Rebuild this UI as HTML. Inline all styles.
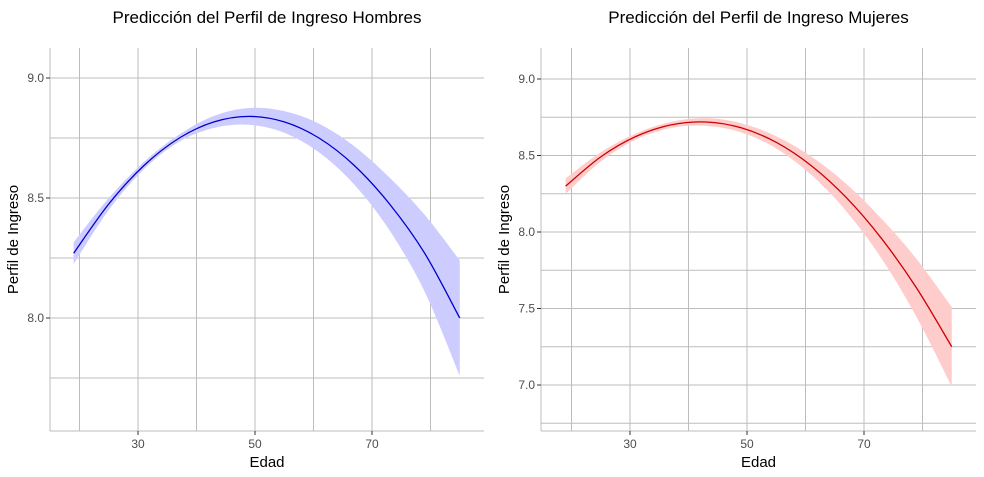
<!DOCTYPE html>
<html><head><meta charset="utf-8">
<style>
body{margin:0;background:#fff;font-family:"Liberation Sans",sans-serif;}
svg{display:block}
</style></head>
<body>
<svg id="c" width="984" height="477"></svg>
<script>
const ages = [19,25,31,37,43,49,55,61,67,73,79,85];
const menFit = [8.27,8.475,8.635,8.749,8.817,8.84,8.817,8.749,8.635,8.475,8.27,8.0];
const menHalf = [0.045,0.025,0.015,0.015,0.025,0.035,0.045,0.06,0.08,0.11,0.16,0.24];
const womenFit = [8.30,8.491,8.624,8.70,8.719,8.681,8.586,8.433,8.224,7.957,7.633,7.25];
const womenHalf = [0.05,0.03,0.02,0.02,0.025,0.03,0.04,0.06,0.09,0.13,0.19,0.26];
const xTicks = [30,50,70];
const xMinor = [20,40,60,80];
const menYTicks = [8.0,8.5,9.0];
const menYMinor = [7.75,8.25,8.75];
const womenYTicks = [7.0,7.5,8.0,8.5,9.0];
const womenYMinor = [6.75,7.25,7.75,8.25,8.75];

const NS="http://www.w3.org/2000/svg";
const svg=document.getElementById('c');
function mk(t,a,p){const e=document.createElementNS(NS,t);for(const k in a)e.setAttribute(k,a[k]);(p||svg).appendChild(e);return e;}
function smooth(pts,start){
  let d=start?'M'+pts[0][0]+','+pts[0][1]:'L'+pts[0][0]+','+pts[0][1];
  for(let i=0;i<pts.length-1;i++){
    const p0=pts[Math.max(0,i-1)],p1=pts[i],p2=pts[i+1],p3=pts[Math.min(pts.length-1,i+2)];
    const c1=[p1[0]+(p2[0]-p0[0])/6,p1[1]+(p2[1]-p0[1])/6];
    const c2=[p2[0]-(p3[0]-p1[0])/6,p2[1]-(p3[1]-p1[1])/6];
    d+=` C${c1[0]},${c1[1]} ${c2[0]},${c2[1]} ${p2[0]},${p2[1]}`;
  }
  return d;
}

function panel(o){
  const g=mk('g',{});
  
  
  const sx=a=>o.x30+(a-30)*o.xs;
  const sy=v=>o.y9+(9-v)*o.ys;
  xTicks.concat(xMinor).forEach(a=>{const l=mk('line',{x1:sx(a),x2:sx(a),y1:o.top,y2:o.bottom,stroke:'#bdbdbd','stroke-width':1},g);
    });
  o.yT.concat(o.yM).forEach(v=>{const l=mk('line',{x1:o.left,x2:o.right,y1:sy(v),y2:sy(v),stroke:'#bdbdbd','stroke-width':1},g);
    });
  const up=ages.map((a,i)=>[sx(a),sy(o.fit[i]+o.half[i])]);
  const lo=ages.map((a,i)=>[sx(a),sy(o.fit[i]-o.half[i])]).reverse();
  const band=mk('path',{d:smooth(up,true)+' '+smooth(lo,false)+' Z',fill:o.bandColor},g);
  
  
  const line=mk('path',{d:smooth(ages.map((a,i)=>[sx(a),sy(o.fit[i])]),true),fill:'none',stroke:o.lineColor,'stroke-width':1.3},g);
  
  
  mk('line',{x1:o.left,x2:o.left,y1:o.top,y2:o.bottom,stroke:'#bdbdbd'},g);
  mk('line',{x1:o.left,x2:o.right,y1:o.bottom,y2:o.bottom,stroke:'#bdbdbd'},g);
  xTicks.forEach(a=>{mk('line',{x1:sx(a),x2:sx(a),y1:o.bottom,y2:o.bottom+4,stroke:'#333'},g);
    const t=mk('text',{x:sx(a),y:o.bottom+17,'text-anchor':'middle','font-size':12,fill:'#4d4d4d'},g);t.textContent=a;
    });
  o.yT.forEach(v=>{mk('line',{x1:o.left-4,x2:o.left,y1:sy(v),y2:sy(v),stroke:'#333'},g);
    const t=mk('text',{x:o.left-6,y:sy(v)+4,'text-anchor':'end','font-size':12,fill:'#4d4d4d'},g);t.textContent=v.toFixed(1);
    });
  const xt=mk('text',{x:(o.left+o.right)/2,y:467,'text-anchor':'middle','font-size':15,fill:'#000'},g);xt.textContent='Edad';
  
  const yt=mk('text',{x:0,y:0,'text-anchor':'middle','font-size':15,fill:'#000',transform:`translate(${o.left-32},${(o.top+o.bottom)/2}) rotate(-90)`},g);yt.textContent='Perfil de Ingreso';
  
  const tt=mk('text',{x:(o.left+o.right)/2,y:23,'text-anchor':'middle','font-size':17,fill:'#000'},g);tt.textContent=o.title;
  
}
panel({name:'men-panel',left:50,right:484,top:48,bottom:431,x30:138,xs:5.85,y9:78,ys:240,
  yT:menYTicks,yM:menYMinor,fit:menFit,half:menHalf,bandColor:'#ccccff',lineColor:'#0000cc',
  title:'Predicción del Perfil de Ingreso Hombres'});
panel({name:'women-panel',left:541,right:976,top:48,bottom:431,x30:630,xs:5.85,y9:79,ys:153,
  yT:womenYTicks,yM:womenYMinor,fit:womenFit,half:womenHalf,bandColor:'#ffcccc',lineColor:'#cc0000',
  title:'Predicción del Perfil de Ingreso Mujeres'});
</script>
</body></html>
